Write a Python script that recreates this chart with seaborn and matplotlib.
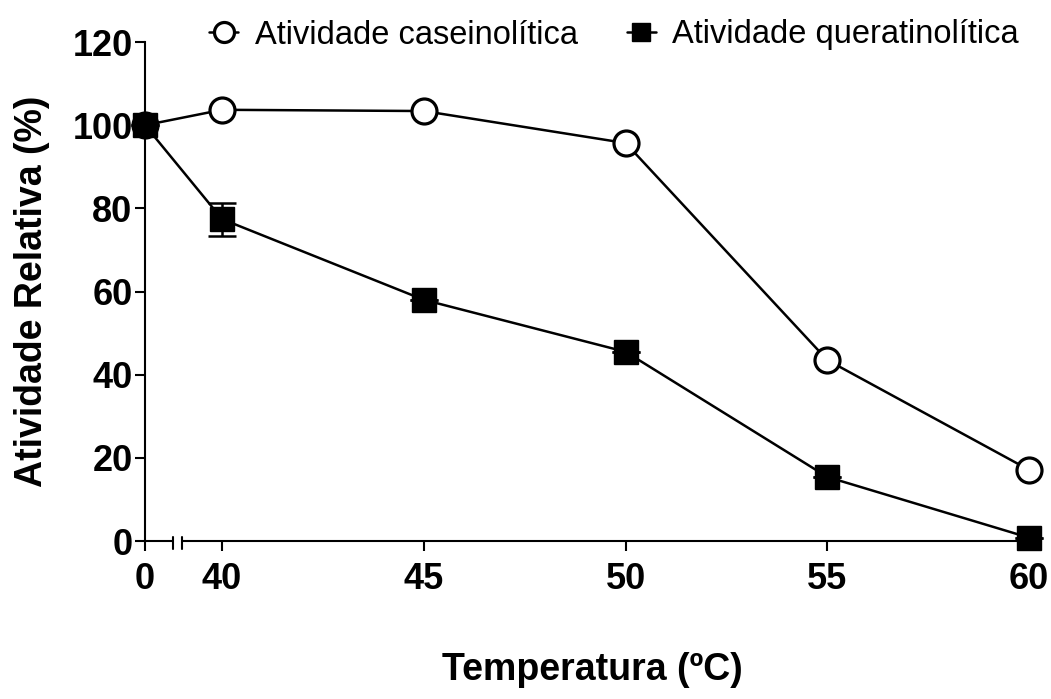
import numpy as np
import matplotlib
matplotlib.use("Agg")
import matplotlib.pyplot as plt
import matplotlib.transforms as mtransforms
import seaborn as sns

# Temperature (ºC) and relative activity (%)
temperatura = [0, 40, 45, 50, 55, 60]
caseinolitica = [100.0, 103.7, 103.4, 95.7, 43.5, 17.1]
queratinolitica = [100.0, 77.4, 58.0, 45.5, 15.4, 0.8]
queratinolitica_sd = [0.0, 4.0, 0.0, 0.0, 0.0, 0.0]

x_ticks = [0, 40, 45, 50, 55, 60]
y_ticks = [0, 20, 40, 60, 80, 100, 120]

label_case = "Atividade caseinolítica"
label_quer = "Atividade queratinolítica"
x_label = "Temperatura (ºC)"
y_label = "Atividade Relativa (%)"

sns.set_theme(style="ticks")
plt.rcParams["font.family"] = ["Liberation Sans", "DejaVu Sans"]
plt.rcParams.update({
    "text.color": "black",
    "axes.labelcolor": "black",
    "xtick.color": "black",
    "ytick.color": "black",
    "axes.edgecolor": "black",
})

fig = plt.figure(figsize=(10.51, 6.99), dpi=100)
ax = fig.add_axes([0.1380, 0.2260, 0.8516, 0.7139])

# Broken x axis: the 0 segment sits just left of the 39-60 range
XP = [-100.0, 0.7, 39.0, 200.0]
FP = [-61.91, 38.79, 39.0, 200.0]


def fwd(x):
    return np.interp(x, XP, FP)


def inv(u):
    return np.interp(u, FP, XP)


ax.set_xscale("function", functions=(fwd, inv))

line_kw = dict(color="black", linewidth=1.8, clip_on=False)
sns.lineplot(x=temperatura, y=caseinolitica, ax=ax, marker="o", markersize=18,
             markerfacecolor="white", markeredgecolor="black", markeredgewidth=2.3,
             label=label_case, zorder=3, **line_kw)
sns.lineplot(x=temperatura, y=queratinolitica, ax=ax, marker="s", markersize=17,
             markerfacecolor="black", markeredgecolor="black", markeredgewidth=1,
             label=label_quer, zorder=4, **line_kw)
ax.errorbar(temperatura, queratinolitica, yerr=queratinolitica_sd, fmt="none",
            ecolor="black", elinewidth=1.8, capsize=10, capthick=1.8,
            zorder=4, clip_on=False)

ax.set_xlim(0, 60.27)
ax.set_ylim(0, 120)
ax.set_xticks(x_ticks)
ax.set_xticklabels([str(t) for t in x_ticks])
ax.set_yticks(y_ticks)
ax.set_yticklabels([str(t) for t in y_ticks])
ax.minorticks_off()

for lab in ax.get_xticklabels() + ax.get_yticklabels():
    lab.set_fontweight("bold")
    lab.set_fontsize(26)
    lab.set_color("black")
ax.tick_params(axis="both", direction="out", length=7, width=1.5, color="black")
ax.tick_params(axis="y", pad=2)
ax.tick_params(axis="x", pad=8)

ax.spines["top"].set_visible(False)
ax.spines["right"].set_visible(False)
ax.spines["bottom"].set_visible(False)
ax.spines["left"].set_linewidth(1.5)
ax.spines["left"].set_color("black")

# Bottom axis line in two pieces with break marks
trans = mtransforms.blended_transform_factory(ax.transData, ax.transAxes)
for a, b in [(0, 0.7), (39.0, 60.27)]:
    ax.plot([a, b], [0, 0], transform=trans, color="black", lw=1.5,
            clip_on=False, zorder=2, solid_capstyle="butt")
for xb in [0.7, 39.0]:
    ax.plot([xb, xb], [-0.016, 0.008], transform=trans, color="black", lw=1.5,
            clip_on=False, zorder=2)

ax.set_xlabel(x_label, fontsize=27, fontweight="bold", labelpad=40, color="black")
ax.set_ylabel(y_label, fontsize=27, fontweight="bold", labelpad=16, color="black")

ax.legend_.remove()
handles, labels = ax.get_legend_handles_labels()
leg = fig.legend(handles, labels, loc="center", ncol=2, frameon=False,
                 bbox_to_anchor=(614 / 1051, 1 - 35 / 699),
                 bbox_transform=fig.transFigure,
                 fontsize=23.5, markerscale=0.8, handlelength=0.9,
                 handletextpad=0.5, columnspacing=1.5)
for t in leg.get_texts():
    t.set_color("black")

ax.set_facecolor("white")
fig.patch.set_facecolor("white")
fig.savefig("out.png", dpi=100, facecolor="white")
